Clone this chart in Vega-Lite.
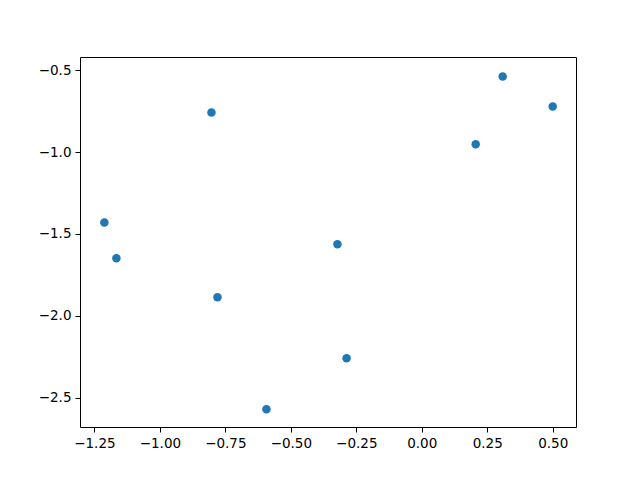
{
  "$schema": "https://vega.github.io/schema/vega-lite/v6.json",
  "width": 496,
  "height": 370,
  "autosize": {"type": "none"},
  "padding": {"left": 80, "top": 57, "right": 64, "bottom": 53},
  "background": "white",
  "config": {
    "view": {"stroke": "black", "strokeWidth": 1},
    "axis": {
      "grid": false,
      "domain": false,
      "tickColor": "black",
      "tickSize": 5,
      "tickWidth": 1,
      "labelFont": "DejaVu Sans",
      "labelFontSize": 13.5,
      "labelColor": "black",
      "labelPadding": 4,
      "title": null
    }
  },
  "data": {
    "values": [
      {"x": -1.212, "y": -1.43},
      {"x": -1.166, "y": -1.648},
      {"x": -0.803, "y": -0.758},
      {"x": -0.780, "y": -1.886},
      {"x": -0.593, "y": -2.569},
      {"x": -0.322, "y": -1.563},
      {"x": -0.287, "y": -2.258},
      {"x": 0.206, "y": -0.953},
      {"x": 0.309, "y": -0.539},
      {"x": 0.500, "y": -0.722}
    ]
  },
  "mark": {"type": "circle", "size": 72, "color": "#1f77b4", "opacity": 1},
  "encoding": {
    "x": {
      "field": "x", "type": "quantitative",
      "scale": {"domain": [-1.305, 0.589], "nice": false, "zero": false},
      "axis": {"values": [-1.25, -1.0, -0.75, -0.5, -0.25, 0, 0.25, 0.5], "format": ".2f"}
    },
    "y": {
      "field": "y", "type": "quantitative",
      "scale": {"domain": [-2.678, -0.42], "nice": false, "zero": false},
      "axis": {"values": [-2.5, -2.0, -1.5, -1.0, -0.5], "format": ".1f"}
    }
  }
}
